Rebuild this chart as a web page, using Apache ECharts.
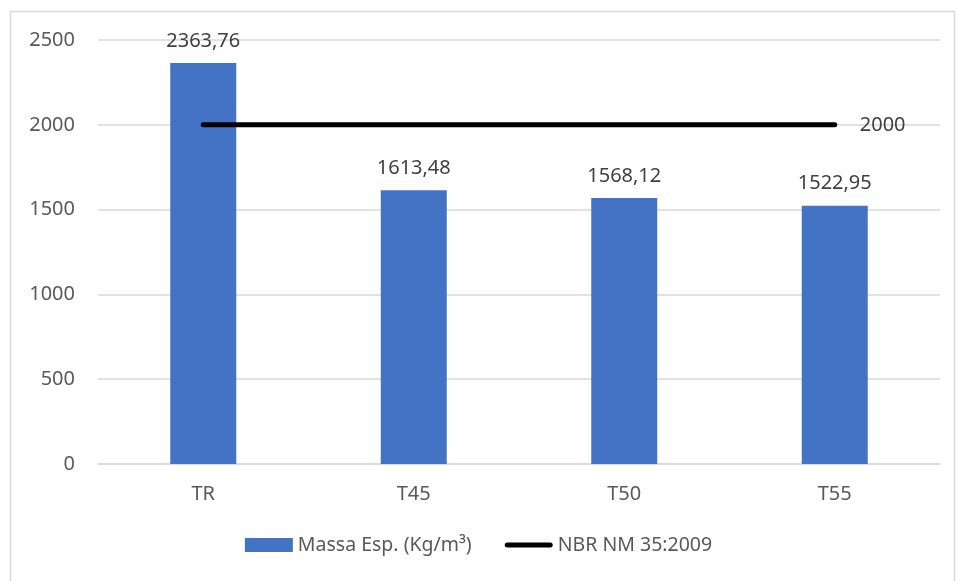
<!DOCTYPE html>
<html>
<head>
<meta charset="utf-8">
<script src="https://cdn.jsdelivr.net/npm/echarts@6/dist/echarts.min.js"></script>
<style>
  html, body { margin: 0; padding: 0; background: #fff; }
  #main { width: 957px; height: 581px; }
</style>
</head>
<body>
<div id="main"></div>
<script>
var categories = ['TR', 'T45', 'T50', 'T55'];
var massaEsp = [2363.76, 1613.48, 1568.12, 1522.95];
var nbrLimit = [2000, 2000, 2000, 2000];

var fmt = function (v) { return v.toFixed(2).replace('.', ','); };

var myChart = echarts.init(document.getElementById('main'));
var option = {
    backgroundColor: '#fff',
    textStyle: { fontFamily: 'Noto Sans' },
    graphic: [{
        type: 'rect',
        shape: { x: 10.5, y: 11.5, width: 944, height: 600 },
        style: { fill: 'none', stroke: '#d9d9d9', lineWidth: 1.5 },
        silent: true
    }],
    grid: { left: 98, right: 17, top: 40, bottom: 117 },
    legend: {
        bottom: 21,
        left: 'center',
        itemGap: 33,
        itemWidth: 48,
        itemHeight: 14,
        textStyle: { color: '#595959', fontSize: 19.5, fontFamily: 'Noto Sans' },
        data: [
            { name: 'Massa Esp. (Kg/m³)', icon: 'rect' },
            {
                name: 'NBR NM 35:2009',
                icon: 'path://M0,0 M0,14 M2.5,4.5 L45.5,4.5 A2.5,2.5 0 0 1 45.5,9.5 L2.5,9.5 A2.5,2.5 0 0 1 2.5,4.5 Z',
                itemStyle: { color: '#000' }
            }
        ]
    },
    xAxis: {
        type: 'category',
        data: categories,
        axisLine: { lineStyle: { color: '#d9d9d9', width: 1.5 } },
        axisTick: { show: false },
        axisLabel: { color: '#595959', fontSize: 20, margin: 20 }
    },
    yAxis: {
        type: 'value',
        min: 0,
        max: 2500,
        interval: 500,
        axisLine: { show: false },
        axisTick: { show: false },
        splitLine: { lineStyle: { color: '#d9d9d9', width: 1.5 } },
        axisLabel: { color: '#595959', fontSize: 20, margin: 23, formatter: function (v) { return String(v); } }
    },
    series: [{
        name: 'Massa Esp. (Kg/m³)',
        type: 'bar',
        data: massaEsp,
        barWidth: 66,
        itemStyle: { color: '#4472c4' },
        label: {
            show: true,
            position: 'top',
            distance: 12,
            color: '#404040',
            fontSize: 20,
            formatter: function (p) { return fmt(p.value); }
        },
        z: 2
    }, {
        name: 'NBR NM 35:2009',
        type: 'line',
        data: nbrLimit,
        symbol: 'none',
        lineStyle: { color: '#000', width: 5, cap: 'round' },
        itemStyle: { color: '#000' },
        label: { show: false },
        endLabel: {
            show: true,
            distance: 25,
            color: '#404040',
            fontSize: 20,
            formatter: function (p) { return String(p.value); }
        },
        z: 3
    }]
};
myChart.setOption(option);
</script>
</body>
</html>
